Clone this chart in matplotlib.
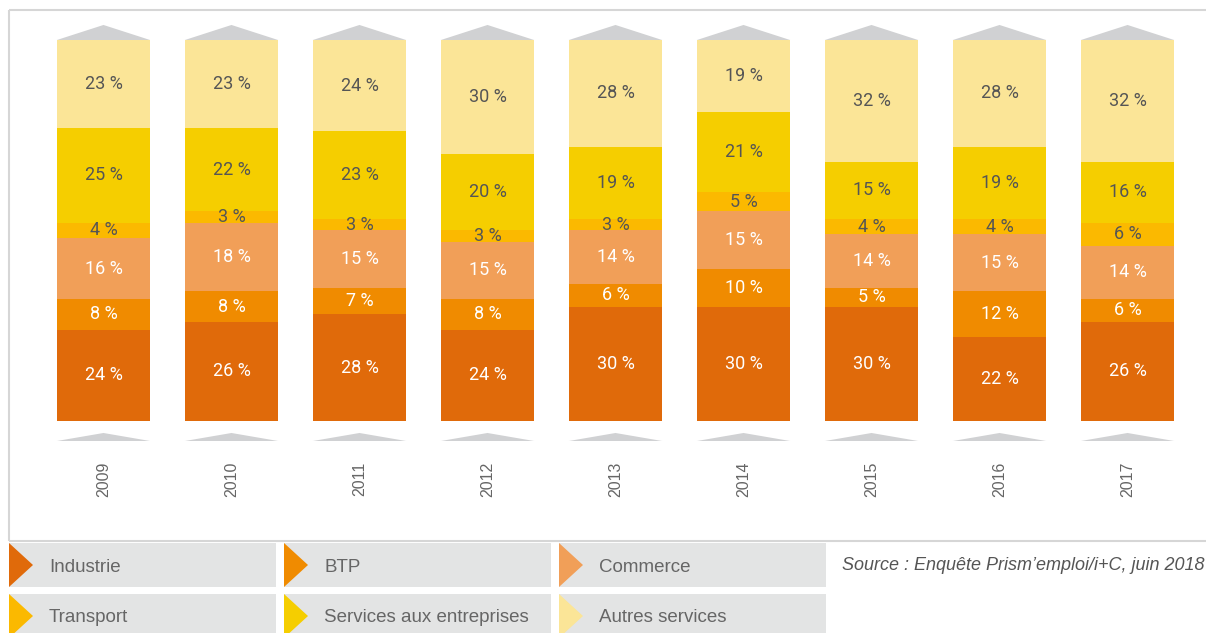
import numpy as np
import matplotlib
matplotlib.use("Agg")
import matplotlib.pyplot as plt
from matplotlib.patches import Polygon, Rectangle

# ─────────────────────────────────────────
# DATA — share of each sector (%) per year
# ─────────────────────────────────────────
years     = ["2009", "2010", "2011", "2012", "2013", "2014", "2015", "2016", "2017"]
industrie = [24, 26, 28, 24, 30, 30, 30, 22, 26]
btp       = [8, 8, 7, 8, 6, 10, 5, 12, 6]
commerce  = [16, 18, 15, 15, 14, 15, 14, 15, 14]
transport = [4, 3, 3, 3, 3, 5, 4, 4, 6]
services  = [25, 22, 23, 20, 19, 21, 15, 19, 16]
autres    = [23, 23, 24, 30, 28, 19, 32, 28, 32]

series_names = ["Industrie", "BTP", "Commerce",
                "Transport", "Services aux entreprises", "Autres services"]
source_text  = "Source : Enquête Prism\u2019emploi/i+C, juin 2018"

# ─────────────────────────────────────────
# STYLE
# ─────────────────────────────────────────
COLORS      = ["#E06A0A", "#F08B00", "#F19F58", "#FBB900", "#F5CE00", "#FBE597"]
TEXT_COLORS = ["white", "white", "white", "#555555", "#555555", "#555555"]
GREY_TRI    = "#D0D1D3"
FRAME       = "#D6D6D6"
LEGEND_BG   = "#E3E4E4"
LEGEND_TXT  = "#666666"

W, H = 1206, 633
fig = plt.figure(figsize=(W / 100, H / 100), dpi=100)

# background layer in pixel units: frame + legend
bg = fig.add_axes([0, 0, 1, 1])
bg.set_xlim(0, W)
bg.set_ylim(H, 0)
bg.axis("off")

bg.plot([9, W], [10, 10], color=FRAME, lw=1.5, solid_capstyle="butt")
bg.plot([9, 9], [10, 541], color=FRAME, lw=1.5, solid_capstyle="butt")
bg.plot([9, W], [541, 541], color=FRAME, lw=1.5, solid_capstyle="butt")

col_x = [9, 284, 559]
row_y = [543, 594]
box_w, box_h = 267, 44
for i, name in enumerate(series_names):
    x0 = col_x[i % 3]
    y0 = row_y[i // 3]
    bg.add_patch(Rectangle((x0, y0), box_w, box_h, facecolor=LEGEND_BG, edgecolor="none"))
    bg.add_patch(Polygon([(x0, y0), (x0 + 24, y0 + box_h / 2), (x0, y0 + box_h)],
                         closed=True, facecolor=COLORS[i], edgecolor="none"))
    bg.text(x0 + 40, y0 + box_h / 2 + 2, name, ha="left", va="center",
            fontsize=13.5, color=LEGEND_TXT, family="Liberation Sans")

bg.text(842, 566, source_text, ha="left", va="center", fontsize=13,
        style="italic", color="#555555", family="Liberation Sans")

# chart layer in data units (0–100 % stacks)
ax = fig.add_axes([9 / W, (H - 541) / H, (W - 9) / W, (541 - 10) / H])
ax.patch.set_visible(False)
ax.set_xlim(-0.738, 8.613)
ax.set_ylim(-31.5, 107.87)
ax.axis("off")

x = np.arange(len(years))
bar_w = 0.727
stacks = [industrie, btp, commerce, transport, services, autres]
bottom = np.zeros(len(years))
for vals, col, tcol in zip(stacks, COLORS, TEXT_COLORS):
    vals = np.array(vals, dtype=float)
    ax.bar(x, vals, bottom=bottom, width=bar_w, color=col, edgecolor="none")
    for xi, b, v in zip(x, bottom, vals):
        ax.text(xi, b + v / 2, f"{int(v)} %", ha="center", va="center",
                fontsize=13, color=tcol, family="Roboto", fontweight="normal")
    bottom += vals

# grey caps above and below each column
for xi in x:
    ax.add_patch(Polygon([(xi - bar_w / 2, 100), (xi, 103.94), (xi + bar_w / 2, 100)],
                         closed=True, facecolor=GREY_TRI, edgecolor="none"))
    ax.add_patch(Polygon([(xi - bar_w / 2, -5.25), (xi, -3.15), (xi + bar_w / 2, -5.25)],
                         closed=True, facecolor=GREY_TRI, edgecolor="none"))

for xi, yr in zip(x, years):
    ax.text(xi, -15.3, yr, rotation=90, ha="center", va="center",
            fontsize=11.5, color="#666666", family="Liberation Sans")

fig.savefig("out.png", dpi=100)
